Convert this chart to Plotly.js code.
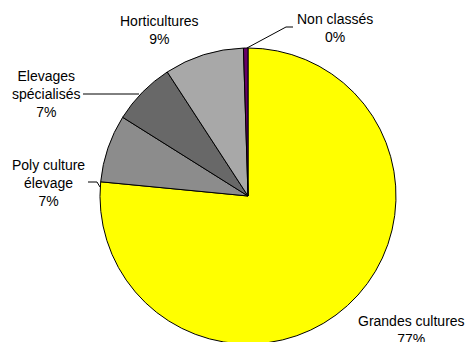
<!DOCTYPE html>
<html>
<head>
<meta charset="utf-8">
<script src="https://cdn.plot.ly/plotly-3.0.1.min.js"></script>
<style>
html,body{margin:0;padding:0;overflow:hidden;background:#fff;}
#chart{width:467px;height:344px;}
</style>
</head>
<body>
<div id="chart"></div>
<script>
// Data
const categories = ["Grandes cultures", "Poly culture<br>élevage", "Elevages<br>spécialisés", "Horticultures", "Non classés"];
const values = [76.6, 7.4, 6.9, 8.7, 0.49];
const colors = ["#FFFF00", "#8C8C8C", "#686868", "#A8A8A8", "#660066"];

const W = 467, H = 344;
const total = values.reduce((a, b) => a + b, 0);
const pctText = values.map(v => Math.round(v / total * 100) + "%");

// label block centers (pixels)
const labelPos = [[411, 330], [48, 183], [45.5, 93.7], [159, 30], [335, 28]];

const trace = {
  type: "pie",
  labels: categories,
  values: values,
  sort: false,
  direction: "clockwise",
  rotation: 0,
  textinfo: "none",
  hoverinfo: "label+percent",
  marker: {colors: colors, line: {color: "#000000", width: 1}},
  domain: {x: [100 / W, 396 / W], y: [0, 1 - 48 / H]},
  showlegend: false
};

const px = x => x / W, py = y => 1 - y / H;

const annotations = categories.map((c, i) => ({
  xref: "paper", yref: "paper",
  x: px(labelPos[i][0]), y: py(labelPos[i][1]),
  xanchor: "center", yanchor: "middle",
  text: c + "<br>" + pctText[i],
  showarrow: false,
  align: "center",
  font: {family: "Liberation Sans, Arial, sans-serif", size: 14, color: "#000"}
}));

function pathOf(pts) {
  return pts.map((p, i) => (i ? "L" : "M") + px(p[0]).toFixed(5) + "," + py(p[1]).toFixed(5)).join(" ");
}
const leaders = [
  [[247, 48], [286, 27], [293, 27]],
  [[83, 94], [139, 94]],
  [[88, 182], [97, 182], [100, 187]]
];
const shapes = leaders.map(l => ({
  type: "path", xref: "paper", yref: "paper",
  path: pathOf(l),
  line: {color: "#000", width: 1}
}));

const layout = {
  width: W, height: H,
  margin: {l: 0, r: 0, t: 0, b: 0},
  paper_bgcolor: "#fff",
  plot_bgcolor: "#fff",
  annotations: annotations,
  shapes: shapes,
  showlegend: false
};

Plotly.newPlot("chart", [trace], layout, {displayModeBar: false, staticPlot: true});
</script>
</body>
</html>
